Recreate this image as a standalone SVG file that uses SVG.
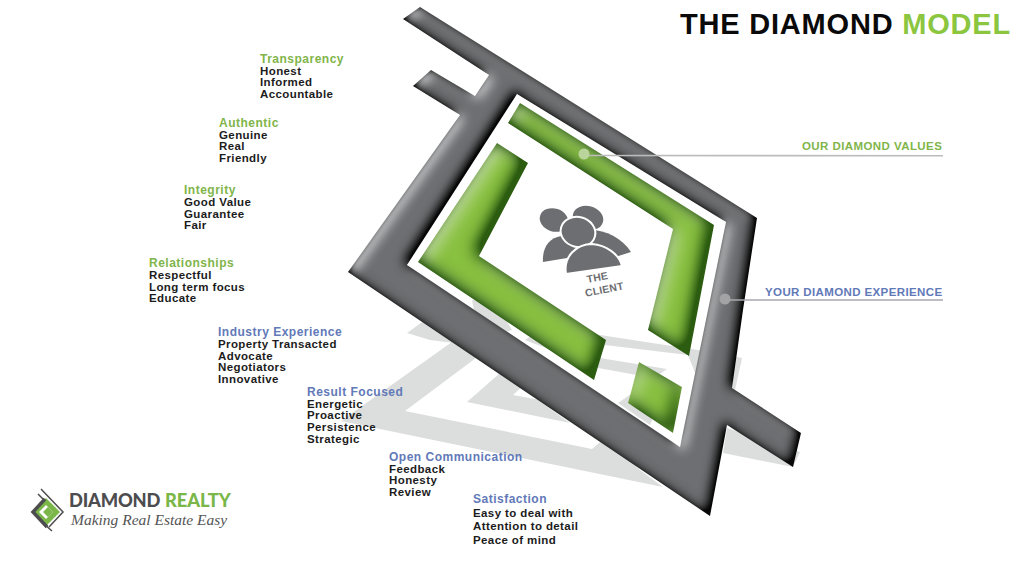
<svg xmlns="http://www.w3.org/2000/svg" width="1024" height="563" viewBox="0 0 1024 563">
<style>
text{font-family:"Liberation Sans",Arial,sans-serif;font-weight:700;font-size:11.5px;letter-spacing:.4px;fill:#1c1c1c}
.h{font-size:12px;letter-spacing:.5px}
.g{fill:#7fb54a}
.b{fill:#6279b8}
.sh{fill:#dcdddd}
.p{fill:#6d6e71}
.lead{stroke-width:1.6;fill:none}
</style>
<defs>
<filter id="bevelGray" x="-5%" y="-5%" width="110%" height="110%" color-interpolation-filters="sRGB">
<feComponentTransfer in="SourceAlpha" result="inv"><feFuncA type="table" tableValues="1 0"/></feComponentTransfer>
<feOffset in="inv" dx="-3" dy="-3" result="o1"/><feGaussianBlur in="o1" stdDeviation="6" result="b1"/>
<feComponentTransfer in="b1" result="b1s"><feFuncA type="linear" slope="1.5"/></feComponentTransfer>
<feFlood flood-color="#000" flood-opacity=".95"/><feComposite in2="b1s" operator="in" result="d"/>
<feOffset in="inv" dx="4" dy="3" result="o2"/><feGaussianBlur in="o2" stdDeviation="6" result="b2"/>
<feComponentTransfer in="b2" result="b2s"><feFuncA type="linear" slope="1.5"/></feComponentTransfer>
<feFlood flood-color="#c4c5c8" flood-opacity="1"/><feComposite in2="b2s" operator="in" result="l"/>
<feMerge result="m"><feMergeNode in="SourceGraphic"/><feMergeNode in="l"/><feMergeNode in="d"/></feMerge>
<feComposite in="m" in2="SourceAlpha" operator="in"/>
<feGaussianBlur stdDeviation=".6"/>
</filter>
<filter id="bevelGreen" x="-5%" y="-5%" width="110%" height="110%" color-interpolation-filters="sRGB">
<feComponentTransfer in="SourceAlpha" result="inv"><feFuncA type="table" tableValues="1 0"/></feComponentTransfer>
<feOffset in="inv" dx="-5" dy="-5" result="o1"/><feGaussianBlur in="o1" stdDeviation="8" result="b1"/>
<feComponentTransfer in="b1" result="b1s"><feFuncA type="linear" slope="1.7"/></feComponentTransfer>
<feFlood flood-color="#2c5c10" flood-opacity="1"/><feComposite in2="b1s" operator="in" result="d"/>
<feOffset in="inv" dx="5" dy="4" result="o2"/><feGaussianBlur in="o2" stdDeviation="8" result="b2"/>
<feComponentTransfer in="b2" result="b2s"><feFuncA type="linear" slope="1.5"/></feComponentTransfer>
<feFlood flood-color="#b9da90" flood-opacity="1"/><feComposite in2="b2s" operator="in" result="l"/>
<feMerge result="m"><feMergeNode in="SourceGraphic"/><feMergeNode in="l"/><feMergeNode in="d"/></feMerge>
<feComposite in="m" in2="SourceAlpha" operator="in"/>
<feGaussianBlur stdDeviation=".6"/>
</filter>
</defs>
<rect width="1024" height="563" fill="#fff"/>
<g id="shadow">
<polygon class="sh" points="341,421 480,322 500,340 405,411 592,449 605,438 640,470 663,487"/>
<polygon class="sh" points="407,333 435,313 470,345 430,340"/>
<polygon class="sh" points="472,300 495,302 512,330 480,340"/>
<polygon class="sh" points="525,340 540,330 600,335 698,350 742,358 735,390 700,385 688,355 605,345 600,358 667,369 637,375 598,368"/>
<polygon class="sh" points="637,375 667,369 618,403 650,425 660,400"/>
<polygon class="sh" points="467,402 500,373 570,423"/>
<polygon fill="#fff" points="513,395 525,384 540,400"/>
<polygon class="sh" points="727,428 800,452 793,467 723,453"/>
</g>
<g id="your-diamond-frame">
<path fill="#6e6f72" fill-rule="evenodd" filter="url(#bevelGray)" d="M403,19 L420,7 L757,218 L743,310 L732,388 L801,433 L793,467 L727,425 L710,516 L348,272 L460,115 L413,86 L431,70 L475,96 L489,75 Z M517,94 L726,222 L680,447 L407,265 Z"/>
</g>
<g id="our-diamond-values">
<polygon fill="#88c040" filter="url(#bevelGreen)" points="520,103 714,225 689,356 648,330 673,229 508,123"/>
<polygon fill="#88c040" filter="url(#bevelGreen)" points="497,143 528,163 479,256 606,340 594,380 418,262"/>
<polygon fill="#88c040" filter="url(#bevelGreen)" points="639,362 682,387 673,433 628,403"/>
</g>
<g id="client">
<ellipse class="p" cx="554" cy="220" rx="14.5" ry="11.5" transform="rotate(18 554 220)"/>
<ellipse class="p" cx="588" cy="218" rx="15.5" ry="12" transform="rotate(15 588 218)"/>
<path class="p" d="M543,262 C542,248 549,238 561,236 L585,250 L567,258 Z"/>
<path class="p" d="M590,230 C606,230 622,238 631,252 L590,265 Z"/>
<ellipse class="p" cx="578" cy="232" rx="17.5" ry="15" transform="rotate(15 578 232)" stroke="#fff" stroke-width="2"/>
<path class="p" stroke="#fff" stroke-width="2" d="M566,274 C563,256 577,244 592,244 C606,245 619,254 622,266 Z"/>
<text x="598" y="281" text-anchor="middle" transform="rotate(-11 598 281)" style="font-size:10.5px;fill:#6d6e71;letter-spacing:.2px">THE</text>
<text x="605" y="293" text-anchor="middle" transform="rotate(-11 605 293)" style="font-size:10.5px;fill:#6d6e71;letter-spacing:.2px">CLIENT</text>
</g>
<g id="connectors">
<path class="lead" stroke="#bcbcbc" d="M584,155.5 L943,155.7"/>
<path class="lead" stroke="#a9a9ae" d="M725,300 L943,300"/>
<circle cx="584" cy="154" r="5.5" fill="#b9d59c"/>
<circle cx="725" cy="299" r="5.5" fill="#a3a3a6"/>
</g>
<g id="title"><text x="680" y="34" style="font-size:29px;letter-spacing:.8px;fill:#0a0a0a">THE DIAMOND <tspan style="fill:#8cc63f">MODEL</tspan></text></g>
<g id="label-values"><text x="802" y="150" class="g" style="letter-spacing:.42px">OUR DIAMOND VALUES</text></g>
<g id="label-experience"><text x="765" y="296" class="b" style="letter-spacing:.38px">YOUR DIAMOND EXPERIENCE</text></g>
<g id="transparency"><text x="260" y="63" class="h g">Transparency</text><text x="260" y="74.5">Honest</text><text x="260" y="86">Informed</text><text x="260" y="97.5">Accountable</text></g>
<g id="authentic"><text x="219" y="127" class="h g">Authentic</text><text x="219" y="138.5">Genuine</text><text x="219" y="150">Real</text><text x="219" y="161.5">Friendly</text></g>
<g id="integrity"><text x="184" y="194" class="h g">Integrity</text><text x="184" y="206">Good Value</text><text x="184" y="217.5">Guarantee</text><text x="184" y="229">Fair</text></g>
<g id="relationships"><text x="149" y="267" class="h g">Relationships</text><text x="149" y="279">Respectful</text><text x="149" y="290.5">Long term focus</text><text x="149" y="302">Educate</text></g>
<g id="industry-experience"><text x="218" y="336" class="h b">Industry Experience</text><text x="218" y="348">Property Transacted</text><text x="218" y="359.5">Advocate</text><text x="218" y="371">Negotiators</text><text x="218" y="383">Innovative</text></g>
<g id="result-focused"><text x="307" y="396" class="h b">Result Focused</text><text x="307" y="407.5">Energetic</text><text x="307" y="419">Proactive</text><text x="307" y="431">Persistence</text><text x="307" y="442.5">Strategic</text></g>
<g id="open-communication"><text x="389" y="461" class="h b">Open Communication</text><text x="389" y="472.5">Feedback</text><text x="389" y="484">Honesty</text><text x="389" y="495.5">Review</text></g>
<g id="satisfaction"><text x="473" y="503" class="h b">Satisfaction</text><text x="473" y="516.5">Easy to deal with</text><text x="473" y="530">Attention to detail</text><text x="473" y="544">Peace of mind</text></g>
<g id="logo">
<polygon points="46,498 60,512 46,526 32,512" fill="#7ab648"/>
<path d="M45,499 L33,512 L47,527" fill="none" stroke="#4d4d4f" stroke-width="3.5"/>
<path d="M46,505 L39,512 L46,519 L53,512 Z" fill="#fff"/>
<path d="M48,507 L43,512 L48,517 L53,512 Z" fill="#7ab648"/>
<path d="M41,489 L63,512 L49,527 M38,494 L44,500 M44,524 L52,531" fill="none" stroke="#4d4d4f" stroke-width="1.5"/>
<text x="69" y="507" style="font-family:Lato,'Liberation Sans',sans-serif;font-size:18.3px;font-weight:900;fill:#4d4d4f;letter-spacing:-.2px">DIAMOND</text>
<text x="165" y="507" style="font-family:Lato,'Liberation Sans',sans-serif;font-size:18.3px;font-weight:900;fill:#7ab648;letter-spacing:-.1px">REALTY</text>
<text x="71" y="525" style="font-family:'Liberation Serif',serif;font-style:italic;font-weight:400;font-size:15.5px;fill:#555;letter-spacing:0">Making Real Estate Easy</text>
</g>
</svg>
